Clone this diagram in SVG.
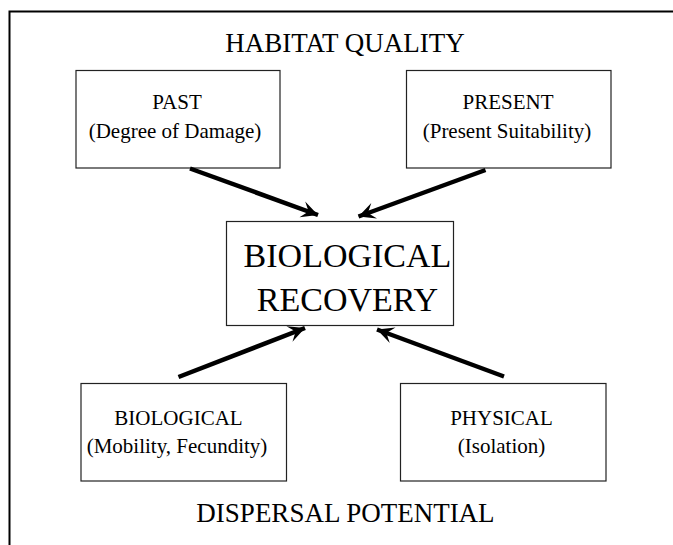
<svg xmlns="http://www.w3.org/2000/svg" width="673" height="545" viewBox="0 0 673 545">
<defs>
<style>
text{font-family:"Liberation Serif","Times New Roman",serif;fill:#000;text-anchor:middle}
.box{fill:#fff;stroke:#222;stroke-width:1.2}
.sm{font-size:21px}
.lg{font-size:27px}
.xl{font-size:34px}
.arr{stroke:#000;stroke-width:4.5;fill:none;marker-end:url(#ah)}
</style>
<marker id="ah" markerUnits="userSpaceOnUse" markerWidth="20" markerHeight="20" viewBox="-16 -8 18 16" refX="0" refY="0" orient="auto">
<path d="M0,0 L-15,-7.5 L-9,0 L-15,7.5 Z" fill="#000"/>
</marker>
</defs>
<rect width="673" height="545" fill="#fff"/>
<path d="M9.5,545 V11.5 H673" fill="none" stroke="#000" stroke-width="2"/>
<text class="lg" x="345" y="52">HABITAT QUALITY</text>
<text class="lg" x="345.5" y="522">DISPERSAL POTENTIAL</text>
<g id="past">
<rect class="box" x="76" y="70.5" width="204" height="97.5"/>
<text class="sm" x="177" y="109">PAST</text>
<text class="sm" x="175" y="138">(Degree of Damage)</text>
</g>
<g id="present">
<rect class="box" x="406.5" y="70.5" width="204.5" height="97.5"/>
<text class="sm" x="508" y="109">PRESENT</text>
<text class="sm" x="507" y="138">(Present Suitability)</text>
</g>
<g id="recovery">
<rect class="box" x="226.5" y="221.5" width="227" height="104"/>
<text class="xl" x="347.5" y="267">BIOLOGICAL</text>
<text class="xl" x="347.5" y="310.5">RECOVERY</text>
</g>
<g id="biological">
<rect class="box" x="81" y="383.5" width="205.5" height="97.5"/>
<text class="sm" x="178.5" y="425">BIOLOGICAL</text>
<text class="sm" x="177" y="452.5">(Mobility, Fecundity)</text>
</g>
<g id="physical">
<rect class="box" x="400.5" y="383.5" width="205.5" height="97.5"/>
<text class="sm" x="501.5" y="425">PHYSICAL</text>
<text class="sm" x="501.5" y="452.5">(Isolation)</text>
</g>
<g id="connectors">
<line class="arr" x1="190" y1="168.5" x2="318" y2="215"/>
<line class="arr" x1="485.5" y1="170" x2="358.5" y2="216.5"/>
<line class="arr" x1="178.5" y1="377" x2="305" y2="328"/>
<line class="arr" x1="504" y1="376.5" x2="377" y2="329.5"/>
</g>
</svg>
